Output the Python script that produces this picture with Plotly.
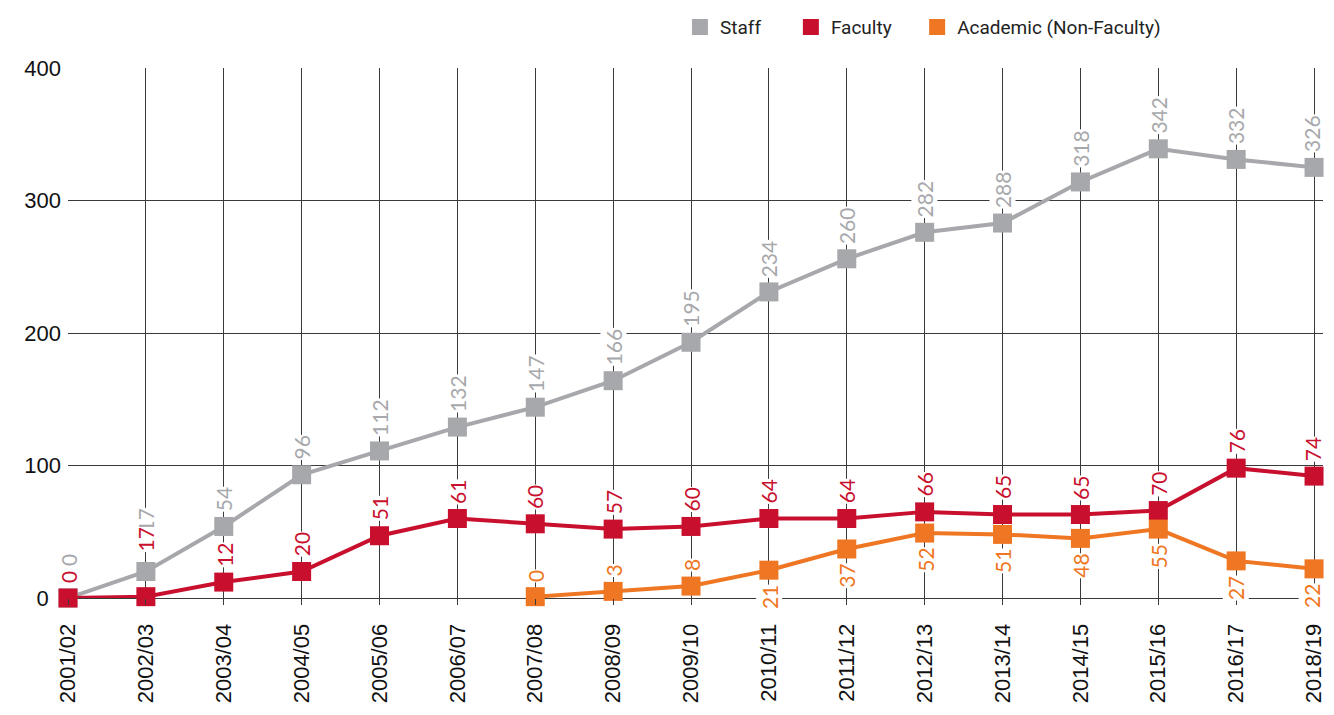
import plotly.graph_objects as go

# Headcount by year; *_labels are the printed data labels
years = ['2001/02', '2002/03', '2003/04', '2004/05', '2005/06', '2006/07',
         '2007/08', '2008/09', '2009/10', '2010/11', '2011/12', '2012/13',
         '2013/14', '2014/15', '2015/16', '2016/17', '2018/19']

staff = [0, 20, 54, 93, 111, 129, 144, 164, 193, 231, 256, 276, 283, 314, 339, 331, 325]
staff_labels = ['0', '17', '54', '96', '112', '132', '147', '166', '195', '234',
                '260', '282', '288', '318', '342', '332', '326']

faculty = [0, 1, 12, 20, 47, 60, 56, 52, 54, 60, 60, 65, 63, 63, 66, 98, 92]
faculty_labels = ['0', '17', '12', '20', '51', '61', '60', '57', '60', '64',
                  '64', '66', '65', '65', '70', '76', '74']

academic = [None, None, None, None, None, None, 1, 5, 9, 21, 37, 49, 48, 45, 52, 28, 22]
academic_labels = ['', '', '', '', '', '', '0', '3', '8', '21', '37', '52', '51',
                   '48', '55', '27', '22']

GREY = '#a7a8ab'
RED = '#c8102e'
ORANGE = '#ef7622'
LABEL_FONT = 'Lato'

fig = go.Figure()

for name, vals, col in [('Staff', staff, GREY), ('Faculty', faculty, RED),
                        ('Academic (Non-Faculty)', academic, ORANGE)]:
    fig.add_trace(go.Scatter(
        x=years, y=vals, mode='lines+markers', name=name,
        line=dict(color=col, width=4),
        marker=dict(symbol='square', size=19, color=col),
        cliponaxis=False, showlegend=False, connectgaps=False,
    ))

# legend-only entries (square swatches), one legend each so they can be placed
legend_pos = {'Staff': 0.4876, 'Faculty': 0.5760, 'Academic (Non-Faculty)': 0.6766}
for i, (name, col) in enumerate([('Staff', GREY), ('Faculty', RED),
                                 ('Academic (Non-Faculty)', ORANGE)]):
    fig.add_trace(go.Scatter(
        x=[None], y=[None], mode='markers', name=name,
        marker=dict(symbol='square', size=16, color=col),
        legend='legend' if i == 0 else f'legend{i + 1}',
    ))

# data labels, rotated, with white knock-out behind them
annotations = []
shift_override = {('staff', 0): 31, ('staff', 1): 38, ('faculty', 1): 44}


def add_labels(key, vals, labels, col, below_from=None):
    for i, (x, v, t) in enumerate(zip(years, vals, labels)):
        if v is None or t == '':
            continue
        below = below_from is not None and i >= below_from
        shift = shift_override.get((key, i), 14)
        annotations.append(dict(
            x=x, y=v, xref='x', yref='y', text=t, textangle=-90,
            showarrow=False, xanchor='center',
            xshift=-2 if i == len(years) - 1 else 0,  # keep last column inside the page
            yanchor='top' if below else 'bottom',
            yshift=-shift if below else shift,
            font=dict(family=LABEL_FONT, size=21, color=col),
            bgcolor='white', borderpad=0,
        ))


add_labels('staff', staff, staff_labels, GREY)
add_labels('faculty', faculty, faculty_labels, RED)
add_labels('academic', academic, academic_labels, ORANGE, below_from=9)

legend_common = dict(orientation='h', yanchor='middle', y=1.077, xanchor='left',
                     bgcolor='rgba(0,0,0,0)', borderwidth=0,
                     font=dict(family='Roboto', size=19, color='#222222'))

# page body has an 8px default margin, so the figure is sized to fit inside it
fig.update_layout(
    width=1318, height=699,
    margin=dict(l=60, r=0, t=54, b=109),
    plot_bgcolor='white', paper_bgcolor='white',
    annotations=annotations,
    legend=dict(x=legend_pos['Staff'], **legend_common),
    legend2=dict(x=legend_pos['Faculty'], **legend_common),
    legend3=dict(x=legend_pos['Academic (Non-Faculty)'], **legend_common),
)

fig.update_xaxes(
    type='category', range=[0, 16.115],
    showgrid=True, gridcolor='#3a3a3a', gridwidth=1,
    ticks='outside', ticklen=6, tickcolor='#3a3a3a',
    tickangle=-90, ticklabelstandoff=10,
    tickfont=dict(family='Liberation Sans', size=22, color='#111111'),
    showline=False, zeroline=False,
)

fig.update_yaxes(
    range=[0, 400], tickvals=[0, 100, 200, 300, 400],
    ticktext=['0\u2007', '100', '200', '300', '400'],
    showgrid=True, gridcolor='#3a3a3a', gridwidth=1,
    zeroline=True, zerolinecolor='#3a3a3a', zerolinewidth=1,
    ticklabelstandoff=6,
    tickfont=dict(family='Liberation Sans', size=22, color='#111111'),
    showline=False,
)

fig.write_html("out.html")
